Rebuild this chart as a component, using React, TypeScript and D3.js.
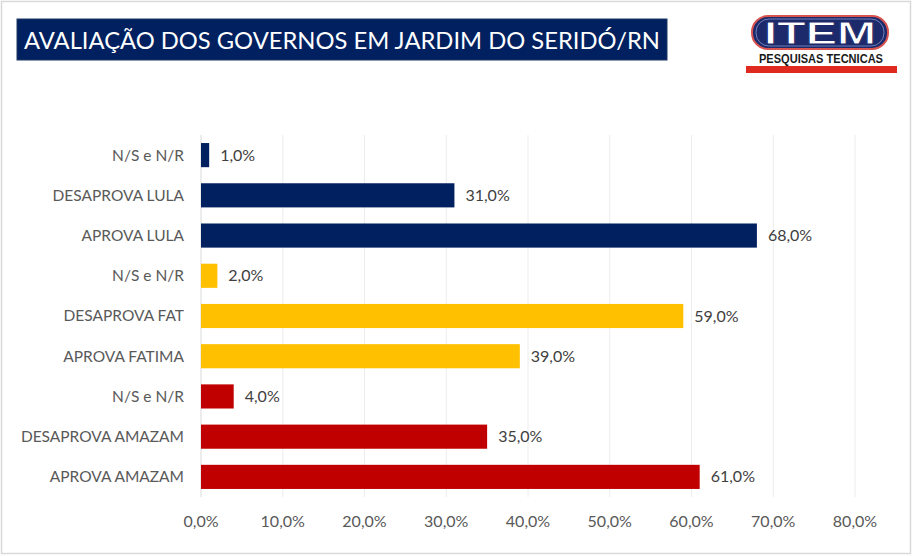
import React from 'react';
import * as d3 from 'd3';

const categories = [
  'N/S e N/R',
  'DESAPROVA LULA',
  'APROVA LULA',
  'N/S e N/R',
  'DESAPROVA FAT',
  'APROVA FATIMA',
  'N/S e N/R',
  'DESAPROVA AMAZAM',
  'APROVA AMAZAM',
];
const values = [1, 31, 68, 2, 59, 39, 4, 35, 61];
const groups = ['Lula', 'Lula', 'Lula', 'Fatima', 'Fatima', 'Fatima', 'Amazam', 'Amazam', 'Amazam'];
const tickValues = [0, 10, 20, 30, 40, 50, 60, 70, 80];

const title = 'AVALIAÇÃO DOS GOVERNOS EM JARDIM DO SERIDÓ/RN';

const W = 913;
const H = 556;
const FONT = 'Lato, "Open Sans", sans-serif';

const fmt = (v: number) => v.toFixed(1).replace('.', ',') + '%';

const App: React.FC = () => {
  const plot = { left: 201, right: 855, top: 135, bottom: 497 };

  const x = d3.scaleLinear().domain([0, 80]).range([plot.left, plot.right]);
  const y = d3
    .scaleBand<number>()
    .domain(categories.map((_, i) => i))
    .range([plot.top, plot.bottom])
    .paddingInner(0.4)
    .paddingOuter(0.2);

  const color = d3
    .scaleOrdinal<string, string>()
    .domain(['Lula', 'Fatima', 'Amazam'])
    .range(['#002060', '#FFC000', '#C00000']);

  return (
    <svg
      width={W}
      height={H}
      style={{ position: 'absolute', left: 0, top: 0, display: 'block', background: '#fff' }}
    >
      {/* outer frame */}
      <rect x={1.5} y={1.5} width={W - 4} height={H - 4} fill="#fff" stroke="#d9d9d9" strokeWidth={1.5} />

      {/* title */}
      <rect x={17} y={19} width={650} height={41} fill="#002060" stroke="#1f3864" />
      <text
        x={24}
        y={48.5}
        fill="#fff"
        fontFamily={FONT}
        fontSize={22.5}
        textLength={636}
        lengthAdjust="spacingAndGlyphs"
      >
        {title}
      </text>

      {/* logo */}
      <g>
        <rect x={752} y={16} width={136} height={33} rx={16} fill="#1c2a6b" stroke="#d9534f" strokeWidth={2} />
        <rect x={756} y={19} width={128} height={27} rx={13} fill="none" stroke="#6f7fb8" strokeWidth={1} />
        <text
          x={820}
          y={44}
          textAnchor="middle"
          fill="#fff"
          stroke="#1c2a6b"
          strokeWidth={0.8}
          fontFamily='"Liberation Sans", Arial, sans-serif'
          fontWeight={900}
          fontSize={31}
          textLength={112}
          lengthAdjust="spacingAndGlyphs"
        >
          ITEM
        </text>
        <text
          x={759}
          y={63}
          fill="#1a1a1a"
          fontFamily='"Liberation Sans Narrow", "Liberation Sans", sans-serif'
          fontWeight={700}
          fontSize={12}
          textLength={124}
          lengthAdjust="spacingAndGlyphs"
        >
          PESQUISAS TECNICAS
        </text>
        <rect x={746} y={66} width={151} height={7} fill="#e02a20" />
      </g>

      {/* gridlines */}
      {tickValues.map((t) => (
        <line
          key={`g${t}`}
          x1={x(t)}
          x2={x(t)}
          y1={plot.top}
          y2={plot.bottom}
          stroke={t === 0 ? '#d9d9d9' : '#ececec'}
          strokeWidth={1}
        />
      ))}

      {/* bars */}
      {values.map((v, i) => (
        <rect
          key={`b${i}`}
          x={x(0)}
          y={y(i)}
          width={x(v) - x(0)}
          height={y.bandwidth()}
          fill={color(groups[i])}
        />
      ))}

      {/* data labels */}
      {values.map((v, i) => (
        <text
          key={`l${i}`}
          x={x(v) + 11}
          y={(y(i) ?? 0) + y.bandwidth() / 2}
          dy="0.35em"
          fill="#404040"
          fontFamily={FONT}
          fontSize={16}
        >
          {fmt(v)}
        </text>
      ))}

      {/* category labels */}
      {categories.map((c, i) => (
        <text
          key={`c${i}`}
          x={plot.left - 17}
          y={(y(i) ?? 0) + y.bandwidth() / 2}
          dy="0.35em"
          textAnchor="end"
          fill="#595959"
          fontFamily={FONT}
          fontSize={15.5}
        >
          {c}
        </text>
      ))}

      {/* x tick labels */}
      {tickValues.map((t) => (
        <text
          key={`t${t}`}
          x={x(t)}
          y={521}
          dy="0.35em"
          textAnchor="middle"
          fill="#595959"
          fontFamily={FONT}
          fontSize={16}
        >
          {fmt(t)}
        </text>
      ))}
    </svg>
  );
};

export default App;
